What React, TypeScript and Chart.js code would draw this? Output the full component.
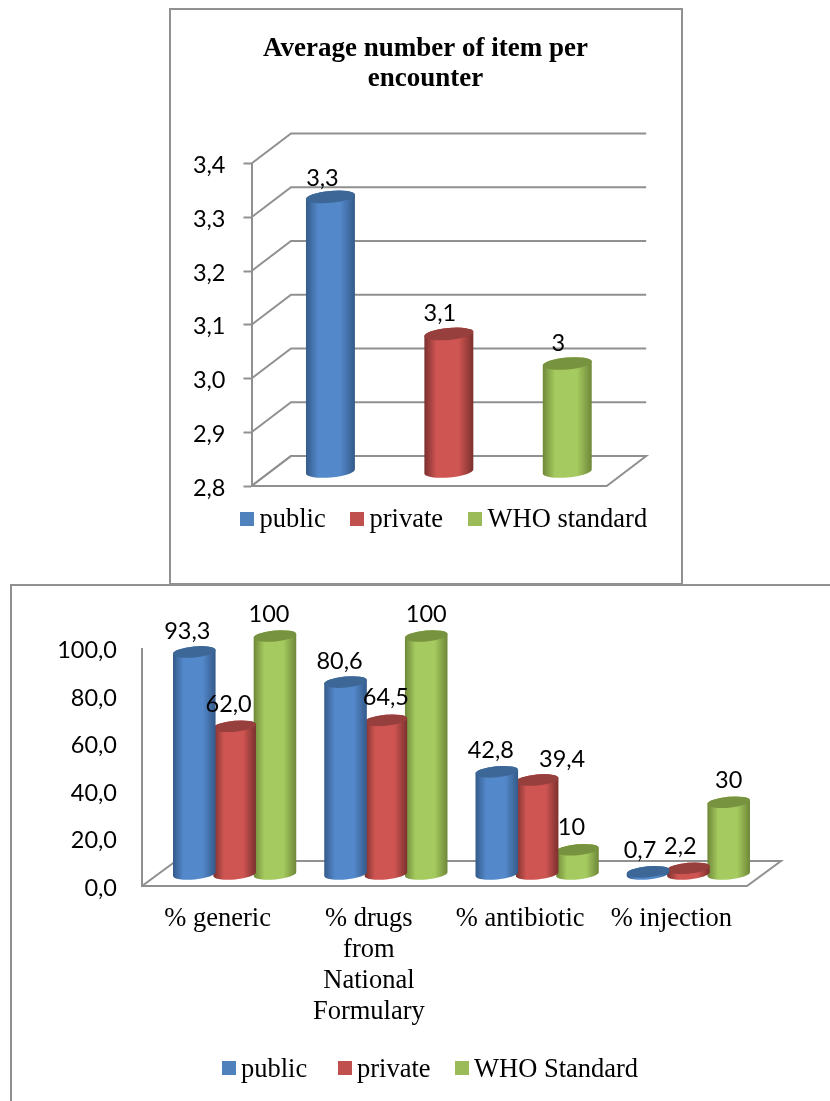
import React, { useEffect, useRef } from "react";
import { Chart, registerables } from "chart.js";

Chart.register(...registerables);

// ---------- data ----------
const itemCategories = ["public", "private", "WHO standard"];
const itemValues = [3.31, 3.055, 3.0];
const itemValueLabels = ["3,3", "3,1", "3"];
const itemTicks = ["2,8", "2,9", "3,0", "3,1", "3,2", "3,3", "3,4"];
const itemTitle = ["Average number of item per", "encounter"];

const drugCategories = [
  "% generic",
  ["% drugs", "from", "National", "Formulary"],
  "% antibiotic",
  "% injection",
];
const drugSeriesNames = ["public", "private", "WHO Standard"];
const drugPublic = [93.3, 80.6, 42.8, 0.7];
const drugPrivate = [62.0, 64.5, 39.4, 2.2];
const drugWho = [100, 100, 10, 30];
const drugPublicLabels = ["93,3", "80,6", "42,8", "0,7"];
const drugPrivateLabels = ["62,0", "64,5", "39,4", "2,2"];
const drugWhoLabels = ["100", "100", "10", "30"];
const drugTicks = ["0,0", "20,0", "40,0", "60,0", "80,0", "100,0"];

// ---------- style ----------
const LINE = "#909090";
const SANS = "Lato";
const SERIF = '"Liberation Serif"';
const BLUE = { flat: "#4F81BD", edge: "#345A88", mid: "#5388CB", top: "#3C6796" };
const RED = { flat: "#C0504D", edge: "#7A302E", mid: "#CF5552", top: "#963F3C" };
const GREEN = { flat: "#9BBB59", edge: "#6E8738", mid: "#A5CA5F", top: "#78933F" };
const flatToShade = new Map([BLUE, RED, GREEN].map((s) => [s.flat, s]));

type Cfg = {
  dx: number;
  dy: number;
  ry: number;
  wall: boolean;
  texts: string[][];
  offsets: number[][][];
  legendNames: string[];
  legendColors: string[];
  legendX: number[];
  legendTextGap: number;
  legendBoxTop: number;
  legendBaseline: number;
};

function makePlugin(cfg: Cfg) {
  return {
    id: "cylinders3d",
    afterLayout(chart: any) {
      // centre the title over the whole frame, not over the padded area
      if (chart.titleBlock) {
        chart.titleBlock.left = 0;
        chart.titleBlock.right = chart.width;
      }
    },
    beforeDatasetsDraw(chart: any) {
      const { ctx, chartArea, scales } = chart;
      const { left, right, bottom } = chartArea;
      ctx.save();
      ctx.strokeStyle = LINE;
      ctx.lineWidth = 2;
      ctx.lineJoin = "miter";
      if (cfg.wall) {
        scales.y.ticks.forEach((t: any) => {
          const y = scales.y.getPixelForValue(t.value);
          ctx.beginPath();
          ctx.moveTo(left, y);
          ctx.lineTo(left + cfg.dx, y - cfg.dy);
          ctx.lineTo(right + cfg.dx, y - cfg.dy);
          ctx.stroke();
        });
      }
      ctx.beginPath();
      ctx.moveTo(left, bottom);
      ctx.lineTo(left + cfg.dx, bottom - cfg.dy);
      ctx.lineTo(right + cfg.dx, bottom - cfg.dy);
      ctx.lineTo(right, bottom);
      ctx.lineTo(left, bottom);
      ctx.stroke();
      ctx.restore();
    },
    beforeDatasetDraw(chart: any, args: any) {
      const { ctx } = chart;
      const meta = chart.getDatasetMeta(args.index);
      const ds = chart.data.datasets[args.index];
      const rot = -0.09;
      meta.data.forEach((bar: any, i: number) => {
        const flat = Array.isArray(ds.backgroundColor) ? ds.backgroundColor[i] : ds.backgroundColor;
        const shade = flatToShade.get(flat) ?? BLUE;
        const cx = bar.x + cfg.dx / 2;
        const topY = bar.y - cfg.dy / 2;
        const botY = bar.base - cfg.dy / 2 + 1;
        const rx = bar.width / 2;
        const g = ctx.createLinearGradient(cx - rx, 0, cx + rx, 0);
        g.addColorStop(0, shade.edge);
        g.addColorStop(0.25, shade.mid);
        g.addColorStop(0.5, shade.mid);
        g.addColorStop(0.7, shade.mid);
        g.addColorStop(1, shade.edge);
        ctx.save();
        ctx.beginPath();
        ctx.ellipse(cx, topY, rx, cfg.ry, rot, Math.PI, 2 * Math.PI);
        ctx.ellipse(cx, botY, rx, cfg.ry, rot, 0, Math.PI);
        ctx.closePath();
        ctx.fillStyle = g;
        ctx.fill();
        ctx.beginPath();
        ctx.ellipse(cx, topY, rx, cfg.ry, rot, 0, 2 * Math.PI);
        ctx.fillStyle = shade.top;
        ctx.fill();
        ctx.restore();
      });
      return false;
    },
    afterDatasetsDraw(chart: any) {
      const { ctx } = chart;
      ctx.save();
      ctx.fillStyle = "#000";
      ctx.textAlign = "center";
      ctx.textBaseline = "middle";
      ctx.font = `23.5px ${SANS}`;
      chart.data.datasets.forEach((_: any, d: number) => {
        chart.getDatasetMeta(d).data.forEach((bar: any, i: number) => {
          const [ox, oy] = cfg.offsets[d][i];
          ctx.fillText(cfg.texts[d][i], bar.x + cfg.dx / 2 + ox, bar.y - cfg.dy / 2 + oy);
        });
      });
      ctx.textAlign = "left";
      ctx.textBaseline = "alphabetic";
      ctx.font = `26.5px ${SERIF}`;
      cfg.legendNames.forEach((name, i) => {
        ctx.fillStyle = cfg.legendColors[i];
        ctx.fillRect(cfg.legendX[i], cfg.legendBoxTop, 14, 14);
        ctx.fillStyle = "#000";
        ctx.fillText(name, cfg.legendX[i] + cfg.legendTextGap, cfg.legendBaseline);
      });
      ctx.restore();
    },
  };
}

function useChart(build: (c: HTMLCanvasElement) => Chart) {
  const ref = useRef<HTMLCanvasElement | null>(null);
  useEffect(() => {
    if (!ref.current) return;
    const chart = build(ref.current);
    return () => chart.destroy();
  }, []);
  return ref;
}

function buildItems(canvas: HTMLCanvasElement) {
  const colors = [BLUE.flat, RED.flat, GREEN.flat];
  return new Chart(canvas, {
    type: "bar",
    data: {
      labels: itemCategories,
      datasets: [
        {
          label: "Average number of item per encounter",
          data: itemValues,
          backgroundColor: colors,
          base: 2.8,
          barPercentage: 0.415,
          categoryPercentage: 1,
        },
      ],
    },
    options: {
      responsive: false,
      animation: false,
      devicePixelRatio: 1,
      layout: { padding: { left: 22.5, right: 75.3, top: 26, bottom: 98 } },
      plugins: {
        legend: { display: false },
        tooltip: { enabled: false },
        title: {
          display: true,
          text: itemTitle,
          color: "#000",
          font: { family: SERIF, size: 27, weight: "bold", lineHeight: 30 / 27 },
          padding: { top: 0, bottom: 69.5 },
        },
      },
      scales: {
        x: { display: false },
        y: {
          min: 2.8,
          max: 3.4,
          afterBuildTicks(s: any) {
            s.ticks = itemTicks.map((_, i) => ({ value: 2.8 + i * 0.1 }));
          },
          afterFit(s: any) {
            s.width = 60;
          },
          border: { display: true, color: LINE, width: 2 },
          grid: { drawOnChartArea: false, drawTicks: true, tickLength: 8, tickWidth: 2, tickColor: LINE, color: LINE },
          ticks: {
            color: "#000",
            padding: 18,
            labelOffset: 2,
            font: { family: SANS, size: 23.5 },
            callback: (_: any, i: number) => itemTicks[i],
          },
        },
      },
    } as any,
    plugins: [
      makePlugin({
        dx: 39.5,
        dy: 30,
        ry: 6,
        wall: true,
        texts: [itemValueLabels],
        offsets: [[[-8, -18], [-9, -21], [-9, -20]]],
        legendNames: itemCategories,
        legendColors: colors,
        legendX: [71, 181, 299],
        legendTextGap: 19.5,
        legendBoxTop: 504,
        legendBaseline: 519,
      }),
    ],
  });
}

function buildDrugs(canvas: HTMLCanvasElement) {
  const bar = { barPercentage: 1.06, categoryPercentage: 0.8 };
  return new Chart(canvas, {
    type: "bar",
    data: {
      labels: drugCategories as any,
      datasets: [
        { label: drugSeriesNames[0], data: drugPublic, backgroundColor: BLUE.flat, ...bar },
        { label: drugSeriesNames[1], data: drugPrivate, backgroundColor: RED.flat, ...bar },
        { label: drugSeriesNames[2], data: drugWho, backgroundColor: GREEN.flat, ...bar },
      ],
    },
    options: {
      responsive: false,
      animation: false,
      devicePixelRatio: 1,
      layout: { padding: { left: 22, right: 83, top: 64.5, bottom: 75 } },
      plugins: { legend: { display: false }, tooltip: { enabled: false } },
      scales: {
        x: {
          afterFit(s: any) {
            s.height = 140;
          },
          border: { display: false },
          grid: { display: false, drawTicks: false },
          ticks: {
            color: "#000",
            padding: 18,
            autoSkip: false,
            maxRotation: 0,
            minRotation: 0,
            font: { family: SERIF, size: 26.5, lineHeight: 31 / 26.5 },
          },
        },
        y: {
          min: 0,
          max: 100,
          afterFit(s: any) {
            s.width = 110;
          },
          border: { display: true, color: LINE, width: 2 },
          grid: { drawOnChartArea: false, drawTicks: false },
          ticks: {
            color: "#000",
            padding: 25,
            stepSize: 20,
            labelOffset: 2,
            font: { family: SANS, size: 23.5 },
            callback: (_: any, i: number) => drugTicks[i],
          },
        },
      },
    } as any,
    plugins: [
      makePlugin({
        dx: 34,
        dy: 25,
        ry: 5.5,
        wall: false,
        texts: [drugPublicLabels, drugPrivateLabels, drugWhoLabels],
        offsets: [
          [[-7, -20], [-6, -21], [-6, -21], [-8, -21]],
          [[-6, -22], [0, -23], [25, -21], [-8, -22]],
          [[-6, -22], [0, -22], [-6, -22], [0, -22]],
        ],
        legendNames: drugSeriesNames,
        legendColors: [BLUE.flat, RED.flat, GREEN.flat],
        legendX: [212, 328, 445],
        legendTextGap: 19,
        legendBoxTop: 477,
        legendBaseline: 493,
      }),
    ],
  });
}

export default function App() {
  const a = useChart(buildItems);
  const b = useChart(buildDrugs);
  const frame: React.CSSProperties = {
    position: "absolute",
    boxSizing: "border-box",
    border: `2px solid ${LINE}`,
    background: "transparent",
  };
  return (
    <div style={{ position: "absolute", left: 0, top: 0, width: 830, height: 1101, overflow: "hidden", background: "#fff" }}>
      <canvas ref={a} width={513} height={576} style={{ position: "absolute", left: 169, top: 8, width: 513, height: 576 }} />
      <canvas ref={b} width={820} height={517} style={{ position: "absolute", left: 10, top: 584, width: 820, height: 517 }} />
      <div style={{ ...frame, left: 169, top: 8, width: 514, height: 577 }} />
      <div style={{ ...frame, left: 10, top: 584, width: 900, height: 600 }} />
    </div>
  );
}
